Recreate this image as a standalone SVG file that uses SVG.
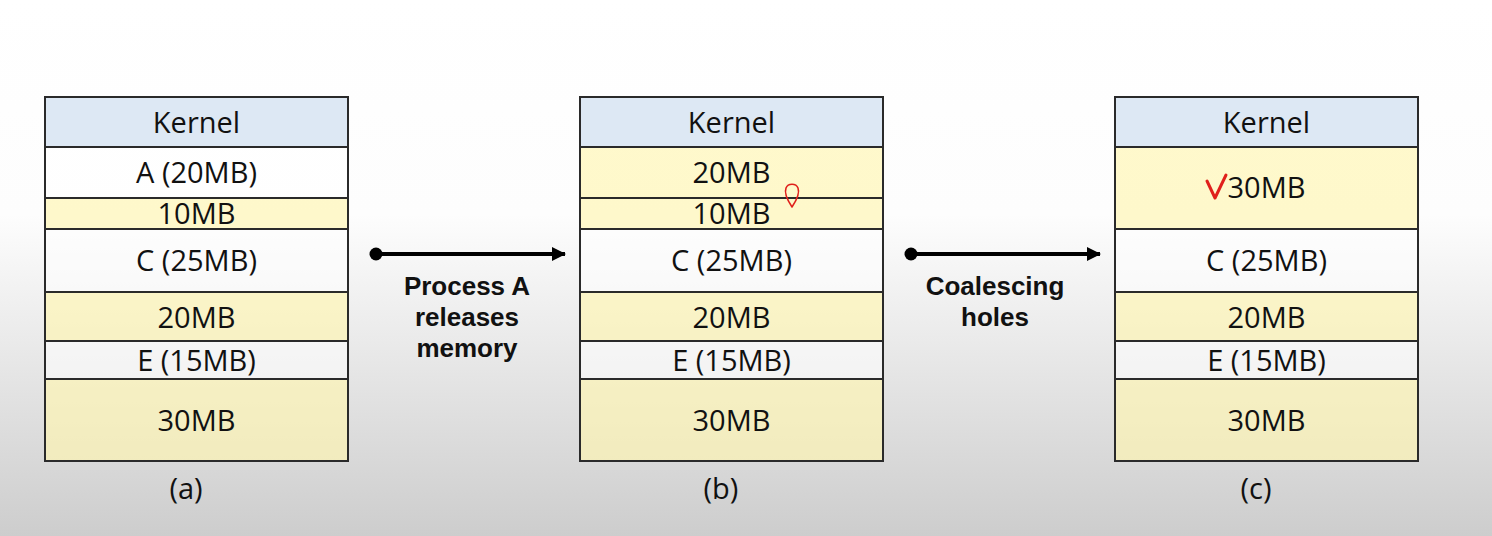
<svg xmlns="http://www.w3.org/2000/svg" width="1492" height="536" viewBox="0 0 1492 536">
<defs>
<linearGradient id="bg" x1="0" y1="0" x2="0" y2="1">
<stop offset="0" stop-color="#ffffff"/>
<stop offset="0.4" stop-color="#fdfdfd"/>
<stop offset="1" stop-color="#cdcdcd"/>
</linearGradient>
<marker id="ah" viewBox="0 0 14 14" refX="13" refY="7" markerWidth="14" markerHeight="14" markerUnits="userSpaceOnUse" orient="auto">
<path d="M0,0 L14,7 L0,14 Z" fill="#000"/>
</marker>
</defs>
<style>
.k{fill:#dde8f4;stroke:#2a2a2a;stroke-width:2}
.w{fill:#ffffff;fill-opacity:0.55;stroke:#2a2a2a;stroke-width:2}
.y{fill:#fff6b0;fill-opacity:0.65;stroke:#2a2a2a;stroke-width:2}
.t{font-family:"Open Sans","Liberation Sans",sans-serif;font-size:29px;fill:#111;text-anchor:middle;dominant-baseline:central}
.b{font-family:"Liberation Sans",Arial,sans-serif;font-size:26px;font-weight:bold;fill:#111;text-anchor:middle}
.c{stroke:#000;stroke-width:4;fill:none}
.red{stroke:#e0201c;fill:none;stroke-linecap:round;stroke-linejoin:round}
</style>
<rect x="0" y="0" width="1492" height="536" fill="url(#bg)"/>

<g id="col-a">
<rect class="k" x="45" y="97" width="303" height="50"/>
<text class="t" x="196.5" y="121">Kernel</text>
<rect class="w" x="45" y="147" width="303" height="51"/>
<text class="t" x="196.5" y="171">A (20MB)</text>
<rect class="y" x="45" y="198" width="303" height="31"/>
<text class="t" x="196.5" y="212">10MB</text>
<rect class="w" x="45" y="229" width="303" height="63"/>
<text class="t" x="196.5" y="259">C (25MB)</text>
<rect class="y" x="45" y="292" width="303" height="49"/>
<text class="t" x="196.5" y="316">20MB</text>
<rect class="w" x="45" y="341" width="303" height="38"/>
<text class="t" x="196.5" y="359">E (15MB)</text>
<rect class="y" x="45" y="379" width="303" height="82"/>
<text class="t" x="196.5" y="419">30MB</text>
<text class="t" x="186" y="487">(a)</text>
</g>

<g id="col-b">
<rect class="k" x="580" y="97" width="303" height="50"/>
<text class="t" x="731.5" y="121">Kernel</text>
<rect class="y" x="580" y="147" width="303" height="51"/>
<text class="t" x="731.5" y="171">20MB</text>
<rect class="y" x="580" y="198" width="303" height="31"/>
<text class="t" x="731.5" y="212">10MB</text>
<rect class="w" x="580" y="229" width="303" height="63"/>
<text class="t" x="731.5" y="259">C (25MB)</text>
<rect class="y" x="580" y="292" width="303" height="49"/>
<text class="t" x="731.5" y="316">20MB</text>
<rect class="w" x="580" y="341" width="303" height="38"/>
<text class="t" x="731.5" y="359">E (15MB)</text>
<rect class="y" x="580" y="379" width="303" height="82"/>
<text class="t" x="731.5" y="419">30MB</text>
<text class="t" x="721" y="487">(b)</text>
<path class="red" stroke-width="1.6" d="M792,207 C788,201 784,193 786,188 C788,183 796,183 798,188 C800,193 796,201 792,207"/>
</g>

<g id="col-c">
<rect class="k" x="1115" y="97" width="303" height="50"/>
<text class="t" x="1266.5" y="121">Kernel</text>
<rect class="y" x="1115" y="147" width="303" height="82"/>
<text class="t" x="1266.5" y="186">30MB</text>
<rect class="w" x="1115" y="229" width="303" height="63"/>
<text class="t" x="1266.5" y="259">C (25MB)</text>
<rect class="y" x="1115" y="292" width="303" height="49"/>
<text class="t" x="1266.5" y="316">20MB</text>
<rect class="w" x="1115" y="341" width="303" height="38"/>
<text class="t" x="1266.5" y="359">E (15MB)</text>
<rect class="y" x="1115" y="379" width="303" height="82"/>
<text class="t" x="1266.5" y="419">30MB</text>
<text class="t" x="1256" y="487">(c)</text>
<path class="red" stroke-width="3" d="M1207,181 L1215,198 L1226,175"/>
</g>

<g id="connectors">
<circle cx="376" cy="254" r="6.5" fill="#000"/>
<line class="c" x1="376" y1="254" x2="565" y2="254" marker-end="url(#ah)"/>
<circle cx="911" cy="254" r="6.5" fill="#000"/>
<line class="c" x1="911" y1="254" x2="1100" y2="254" marker-end="url(#ah)"/>
</g>

<g id="label-release">
<text class="b" x="467" y="295">Process A</text>
<text class="b" x="467" y="326">releases</text>
<text class="b" x="467" y="357">memory</text>
</g>
<g id="label-coalesce">
<text class="b" x="995" y="295">Coalescing</text>
<text class="b" x="995" y="326">holes</text>
</g>
</svg>
